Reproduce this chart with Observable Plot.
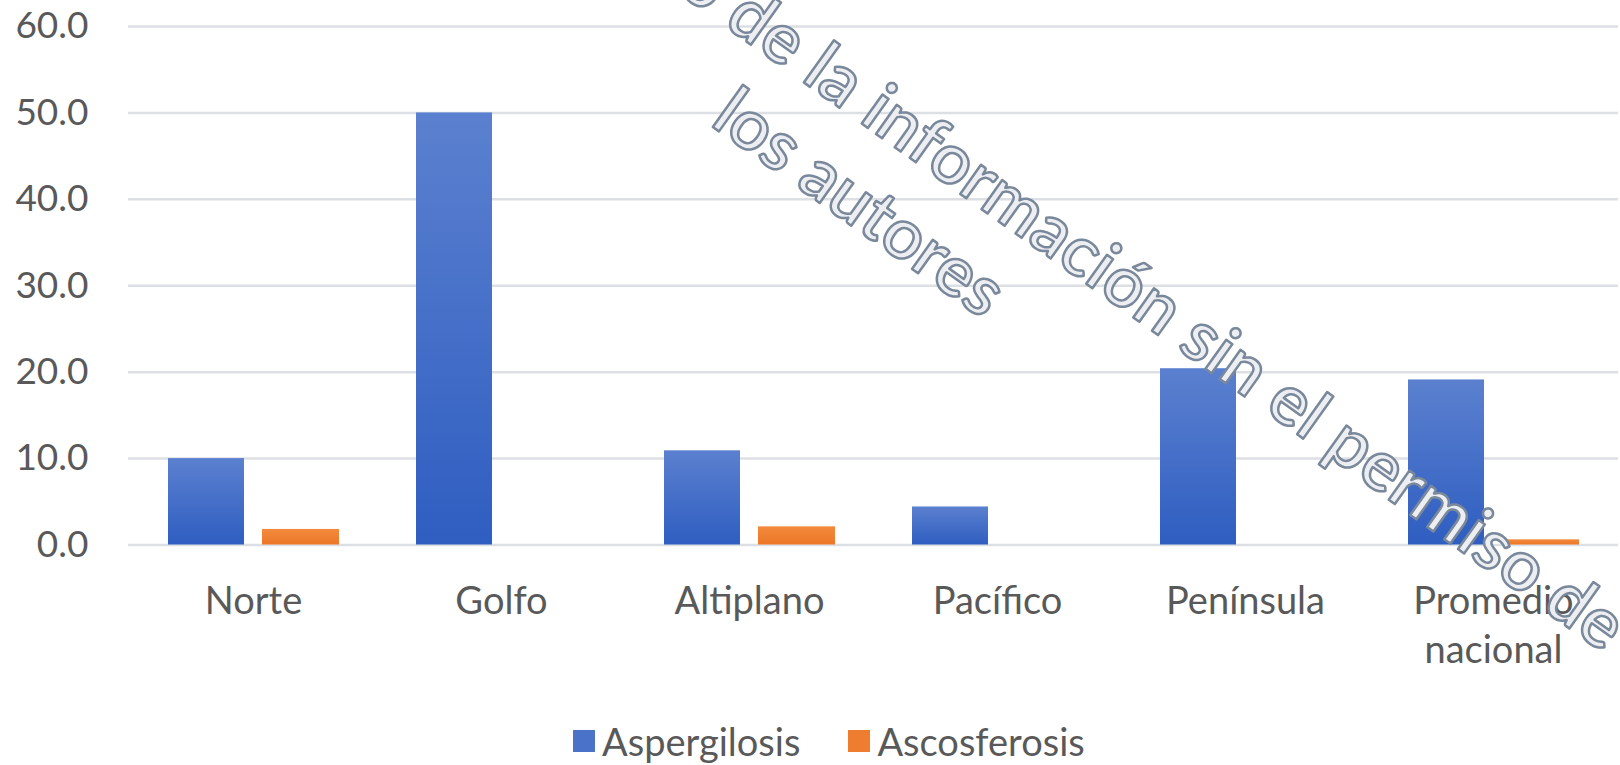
<!DOCTYPE html>
<html>
<head>
<meta charset="utf-8">
<script src="https://cdn.jsdelivr.net/npm/d3@7"></script>
<script src="https://cdn.jsdelivr.net/npm/@observablehq/plot@0.6"></script>
<style>
  html, body { margin: 0; padding: 0; background: #fff; }
  #wrap { position: relative; width: 1620px; height: 765px; overflow: hidden; font-family: Lato, "Open Sans", sans-serif; }
  #chart { position: absolute; left: 0; top: 0; }
  #legend { position: absolute; left: 573px; top: 720px; height: 42px; display: flex; align-items: center; gap: 48px; font-size: 38px; color: #595959; white-space: nowrap; }
  #legend .item { display: flex; align-items: center; gap: 7px; }
  #legend .sw { width: 22px; height: 22px; display: inline-block; }
  #wm { position: absolute; left: 0; top: 0; pointer-events: none; }
</style>
</head>
<body>
<div id="wrap">
  <div id="chart"></div>
  <div id="legend"></div>
  <svg id="wm" width="1620" height="765"></svg>
</div>
<script>
// ---- data ----
const regions = ["Norte", "Golfo", "Altiplano", "Pacífico", "Península", "Promedio\nnacional"];
const seriesNames = ["Aspergilosis", "Ascosferosis"];
const aspergilosis = [10.0, 50.0, 10.9, 4.4, 20.4, 19.1];
const ascosferosis = [1.8, 0.0, 2.1, 0.0, 0.0, 0.6];
const yTicks = [0, 10, 20, 30, 40, 50, 60];
const seriesColors = ["#4a72c8", "#ef7d2f"];
const watermarkLines = ["Prohibido el uso de la información sin el permiso de", "los autores"];

const rowsA = regions.map((r, i) => ({ region: r, serie: seriesNames[0], value: aspergilosis[i] }));
const rowsB = regions.map((r, i) => ({ region: r, serie: seriesNames[1], value: ascosferosis[i] }));

const chart = Plot.plot({
  width: 1620,
  height: 690,
  marginLeft: 128,
  marginRight: 2,
  marginTop: 26,
  marginBottom: 145.5,
  style: { fontFamily: "Lato, 'Open Sans', sans-serif", fontSize: "38px", color: "#595959", background: "transparent", overflow: "visible" },
  x: { domain: regions, padding: 0, label: null },
  y: { domain: [0, 60], label: null },
  marks: [
    Plot.gridY(yTicks, { stroke: "#dcdfe4", strokeOpacity: 1, strokeWidth: 2.5 }),
    Plot.axisY(yTicks, { tickSize: 0, tickPadding: 40, fontSize: 37, tickFormat: d3.format(".1f"), label: null }),
    Plot.axisX({ tickSize: 0, tickPadding: 34, label: null, lineHeight: 1.29 }),
    Plot.barY(rowsA, { x: "region", y: "value", fill: "url(#gradBlue)", insetLeft: 39, insetRight: 133 }),
    Plot.barY(rowsB, { x: "region", y: "value", fill: "url(#gradOrange)", insetLeft: 133, insetRight: 38 })
  ]
});
document.getElementById("chart").appendChild(chart);

// gradients for bars
const defs = d3.select(chart).insert("defs", ":first-child");
function grad(id, top, bottom) {
  const g = defs.append("linearGradient").attr("id", id).attr("x1", 0).attr("y1", 0).attr("x2", 0).attr("y2", 1);
  g.append("stop").attr("offset", "0%").attr("stop-color", top);
  g.append("stop").attr("offset", "100%").attr("stop-color", bottom);
}
grad("gradBlue", "#5b80cf", "#2f5ec1");
grad("gradOrange", "#f38a3d", "#ec7727");

// legend
const legend = d3.select("#legend");
seriesNames.forEach((s, i) => {
  const it = legend.append("div").attr("class", "item");
  it.append("span").attr("class", "sw").style("background", seriesColors[i]);
  it.append("span").text(s);
});

// watermark overlay
const wm = d3.select("#wm").append("g")
  .attr("transform", "translate(705,23) rotate(35.5)")
  .attr("font-family", "Lato, 'Open Sans', sans-serif")
  .attr("font-size", 70)
  .attr("font-weight", 600)
  .attr("fill", "#eceef2")
  .attr("stroke", "#7a889b")
  .attr("stroke-width", 2.5)
  .attr("stroke-linejoin", "round");
wm.append("text").attr("x", 1098).attr("y", -9).attr("text-anchor", "end").attr("letter-spacing", 0.4).text(watermarkLines[0]);
wm.append("text").attr("x", 62).attr("y", 80).attr("text-anchor", "start").text(watermarkLines[1]);
</script>
</body>
</html>
